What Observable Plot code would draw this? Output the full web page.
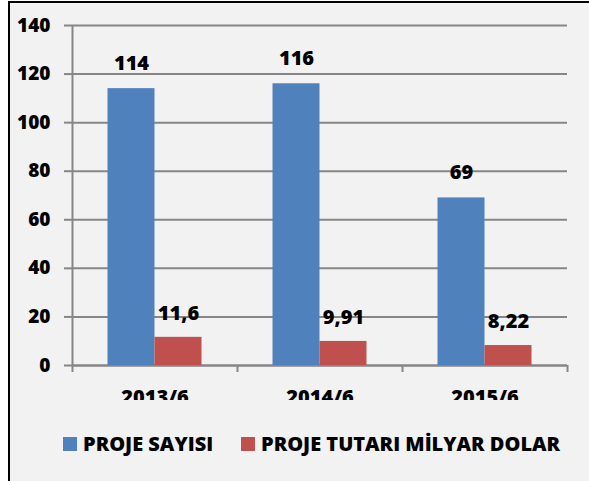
<!DOCTYPE html>
<html>
<head>
<meta charset="utf-8">
<script src="https://cdn.jsdelivr.net/npm/d3@7"></script>
<script src="https://cdn.jsdelivr.net/npm/@observablehq/plot@0.6"></script>
<style>
  html, body { margin: 0; padding: 0; background: #ffffff; width: 589px; height: 481px; overflow: hidden; }
  #frame { position: absolute; left: 8px; top: 1px; width: 600px; height: 500px;
           border-left: 2px solid #000; border-top: 2px solid #000; background: #f2f2f2; }
  #chart { position: absolute; left: 0; top: 0; }
  #chart svg { overflow: hidden; }
  #chart svg text { font-family: "Open Sans", sans-serif; font-weight: 800; }
  .legend { position: absolute; top: 430px; font-family: "Open Sans", sans-serif; font-weight: 800;
            font-size: 20px; color: #000; display: flex; align-items: center; white-space: nowrap; }
  .sw { width: 14px; height: 14px; display: inline-block; margin-right: 6px; }
</style>
</head>
<body>
<div id="frame"></div>
<div id="chart"></div>
<div class="legend" id="lg1" style="left:63px"><span class="sw" style="background:#4f81bd"></span><span id="l1"></span></div>
<div class="legend" id="lg2" style="left:241px"><span class="sw" style="background:#c0504d"></span><span id="l2"></span></div>
<script>
const categories = ["2013/6", "2014/6", "2015/6"];
const seriesNames = ["PROJE SAYISI", "PROJE TUTARI MİLYAR DOLAR"];
const projeSayisi = [114, 116, 69];
const projeTutari = [11.6, 9.91, 8.22];
const yTicks = [0, 20, 40, 60, 80, 100, 120, 140];

const blue = "#4f81bd", red = "#c0504d", grid = "#868686";
const fmt = v => String(v).replace(".", ",");

const blueData = categories.map((c, i) => ({cat: c, value: projeSayisi[i]}));
const redData = categories.map((c, i) => ({cat: c, value: projeTutari[i]}));

document.getElementById("l1").textContent = seriesNames[0];
document.getElementById("l2").textContent = seriesNames[1];

const font = {fontFamily: "Open Sans", fontWeight: 800, fill: "#000"};

const chart = Plot.plot({
  width: 589,
  height: 400,
  marginLeft: 72,
  marginRight: 22,
  marginTop: 25,
  marginBottom: 35,
  style: {background: "transparent", fontFamily: "Open Sans", overflow: "hidden"},
  x: {domain: categories, padding: 0},
  y: {domain: [0, 140]},
  marks: [
    Plot.gridY(yTicks, {stroke: grid, strokeOpacity: 1, strokeWidth: 2}),
    Plot.axisY(yTicks, {tickSize: 8, tickPadding: 14, stroke: grid, strokeWidth: 2, fontSize: 19, label: null, ...font}),
    Plot.axisX({tickSize: 0, tickPadding: 24, fontSize: 20, label: null, ...font}),
    Plot.ruleY([0], {stroke: grid, strokeWidth: 2}),
    Plot.ruleX([categories[0]], {x: d => d, dx: -82.5, y1: 140, y2: 0, insetBottom: -7, stroke: grid, strokeWidth: 2}),
    Plot.ruleX(categories.slice(1), {x: d => d, dx: -82.5, y1: 0, y2: 0, insetBottom: -7, stroke: grid, strokeWidth: 2}),
    Plot.ruleX(categories.slice(-1), {x: d => d, dx: 82.5, y1: 0, y2: 0, insetBottom: -7, stroke: grid, strokeWidth: 2}),
    Plot.barY(blueData, {x: "cat", y: "value", fill: blue, insetLeft: 35.5, insetRight: 82.5}),
    Plot.barY(redData, {x: "cat", y: "value", fill: red, insetLeft: 82.5, insetRight: 35.5}),
    Plot.text(blueData, {x: "cat", y: "value", text: d => fmt(d.value), dx: -23.5, dy: -25, fontSize: 20, ...font}),
    Plot.text(redData, {x: "cat", y: "value", text: d => fmt(d.value), dx: 23.5, dy: -24, fontSize: 20, ...font})
  ]
});
document.getElementById("chart").appendChild(chart);
</script>
</body>
</html>
